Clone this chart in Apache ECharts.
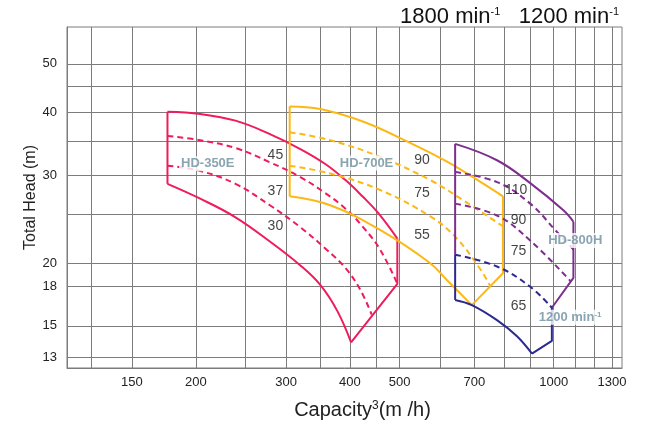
<!DOCTYPE html>
<html><head><meta charset="utf-8">
<script src="https://cdn.jsdelivr.net/npm/echarts@6/dist/echarts.min.js"></script>
<style>html,body{margin:0;padding:0;background:#fff}#c{width:650px;height:421px}</style>
</head><body><div id="c"></div>
<script>
// axis values
const xGridValues = [125,150,200,250,300,350,400,450,500,600,700,800,900,1000,1100,1200,1300];
const xTickLabels = [150,200,300,400,500,700,1000,1300];
const yGridValues = [13,15,18,20,25,30,35,40,45,50];
const yTickLabels = [13,15,18,20,30,40,50];

// HD-350E (1800 min-1)
const redLeft   = [[176,40.1],[176,28.8]];
const redTop    = [[176,40.1],[204,39.7],[239,38.5],[279,36.2],[320,33.8],[358,31.55],[392,29.3],[423,27.2],[454,25.2],[495,22.4]];
const redRight  = [[495,22.4],[495,18.2],[402,13.9]];
const redDash45 = [[176,35.9],[204,35.2],[239,33.95],[279,31.8],[320,29.7],[358,27.6],[392,25.7],[423,23.7],[458,21.3],[495,18.2]];
const redDash37 = [[176,31.3],[204,30.55],[239,28.8],[279,26.1],[320,23.6],[358,21.4],[392,19.56],[419,17.7],[441,15.8]];
const redBottom = [[176,28.8],[204,26.9],[239,24.7],[279,22.1],[320,19.8],[350,18.1],[378,16.05],[402,13.9]];

// HD-700E (1800 min-1)
const yelLeft   = [[305,41.1],[305,27.2]];
const yelTop    = [[305,41.1],[350,40.6],[425,38.3],[517,35.0],[619,31.9],[718,29.1],[796,27.2]];
const yelRight  = [[796,27.2],[796,19.1],[692,16.5]];
const yelDash90 = [[305,36.5],[366,35.2],[458,32.6],[574,29.3],[666,26.7],[796,23.7]];
const yelDash75 = [[305,31.3],[366,30.2],[458,28.0],[574,24.8],[642,22.6],[718,19.5],[752,18.0]];
const yelBottom = [[305,27.2],[366,26.1],[458,23.3],[574,20.0],[619,18.5],[692,16.5]];

// HD-800H (1800 min-1 purple, 1200 min-1 navy)
const purLeft    = [[642,34.6],[642,20.8]];
const purTop     = [[642,34.6],[775,32.1],[900,28.9],[1045,25.5],[1093,24.2]];
const purRight   = [[1093,24.2],[1093,18.7],[992,16.3]];
const purDash110 = [[642,30.4],[775,29.04],[900,26.3],[1007,23.3],[1093,21.3]];
const purDash90  = [[642,26.3],[775,24.9],[900,22.2],[1080,18.4]];
const navLeft    = [[642,20.8],[642,16.9]];
const navDash    = [[642,20.8],[775,19.7],[900,17.95],[992,16.3]];
const navRight   = [[992,16.3],[992,14.0],[907,13.2]];
const navBottom  = [[642,16.9],[692,16.5],[775,15.4],[848,14.3],[907,13.2]];

// text labels
const powerTexts = ['45','37','30','90','75','55','110','90','75','65'];
const powerPos   = [[286,32.9],[286,27.9],[286,23.7],[553,32.1],[553,27.6],[553,22.8],[845,28.0],[854,24.4],[854,21.1],[854,16.4]];
const modelTexts = ['HD-350E','HD-700E','HD-800H','{m|1200 min}{s|-1}'];
const modelPos   = [[211,31.6],[431,31.7],[1102,22.2],[1077,15.6]];

const RED='#ef1c5b', YEL='#fcb815', PUR='#7d2f8e', NAV='#2c2a8e', GRID='#7c7c7c', LBL='#6c8e9e';
const FONT='Liberation Sans';

function ln(data,color,dash,smooth){
  return {type:'line',data:data,symbol:'none',smooth:smooth?0.4:false,
    silent:true,animation:false,z:3,
    lineStyle:{color:color,width:2,type:dash?[6,4]:'solid'}};
}

const series = [
  ln(redLeft,RED,false,false), ln(redTop,RED,false,true), ln(redRight,RED,false,false),
  ln(redDash45,RED,true,true), ln(redDash37,RED,true,true), ln(redBottom,RED,false,true),
  ln(yelLeft,YEL,false,false), ln(yelTop,YEL,false,true), ln(yelRight,YEL,false,false),
  ln(yelDash90,YEL,true,true), ln(yelDash75,YEL,true,true), ln(yelBottom,YEL,false,true),
  ln(purLeft,PUR,false,false), ln(purTop,PUR,false,true), ln(purRight,PUR,false,false),
  ln(purDash110,PUR,true,true), ln(purDash90,PUR,true,true),
  ln(navLeft,NAV,false,false), ln(navDash,NAV,true,true), ln(navRight,NAV,false,false), ln(navBottom,NAV,false,true),
  {type:'scatter',symbolSize:0,silent:true,animation:false,z:5,
    data: powerPos.map((p,i)=>({value:p,label:{formatter:powerTexts[i]}})),
    label:{show:true,position:'inside',color:'#111',fontSize:14,fontFamily:FONT}},
  {type:'scatter',symbolSize:0,silent:true,animation:false,z:6,
    data: modelPos.map((p,i)=>({value:p,label:{formatter:modelTexts[i]}})),
    label:{show:true,position:'inside',color:LBL,fontSize:13,fontWeight:'bold',fontFamily:FONT,
      backgroundColor:'#fff',padding:[1,2],
      rich:{m:{color:LBL,fontSize:13,fontWeight:'bold',fontFamily:FONT},
            s:{color:LBL,fontSize:8,fontWeight:'bold',fontFamily:FONT,verticalAlign:'top'}}}}
];

const chart = echarts.init(document.getElementById('c'),null,{renderer:'canvas'});
chart.setOption({
  animation:false,
  backgroundColor:'#fff',
  title:{text:'{a|1800 min}{s|-1}{a|   1200 min}{s|-1}',right:26,top:1,
    textStyle:{fontWeight:'normal',rich:{a:{fontSize:22,fontWeight:'normal',fontFamily:FONT,color:'#111'},s:{fontSize:11,fontWeight:'normal',fontFamily:FONT,color:'#111',verticalAlign:'top'}}}},
  grid:{left:67,right:28,top:27,bottom:53,show:true,borderColor:GRID,borderWidth:1,containLabel:false,outerBoundsMode:'none'},
  xAxis:{type:'log',logBase:10,min:112,max:1360,
    name:'{a|Capacity}{s|3}{a|(m /h)}',nameLocation:'middle',nameGap:32,nameMoveOverlap:false,
    nameTextStyle:{padding:[0,0,0,36],rich:{a:{fontSize:20,fontFamily:FONT,color:'#222'},s:{fontSize:12,fontFamily:FONT,color:'#222',verticalAlign:'top'}}},
    axisLine:{show:true,lineStyle:{color:GRID,width:1}},
    axisTick:{show:false,customValues:xGridValues},
    axisLabel:{customValues:xTickLabels,formatter:v=>String(v),color:'#222',fontSize:13,fontFamily:FONT,margin:8},
    splitLine:{show:true,lineStyle:{color:GRID,width:1}}},
  yAxis:{type:'log',logBase:10,min:12.36,max:59.2,
    name:'Total Head (m)',nameLocation:'middle',nameGap:28,nameRotate:90,nameMoveOverlap:false,
    nameTextStyle:{fontSize:16,fontFamily:FONT,color:'#222'},
    axisLine:{show:true,lineStyle:{color:GRID,width:1}},
    axisTick:{show:false,customValues:yGridValues},
    axisLabel:{customValues:yTickLabels,formatter:v=>String(v),color:'#222',fontSize:13,fontFamily:FONT,margin:10},
    splitLine:{show:true,lineStyle:{color:GRID,width:1}}},
  series:series
});
</script></body></html>
